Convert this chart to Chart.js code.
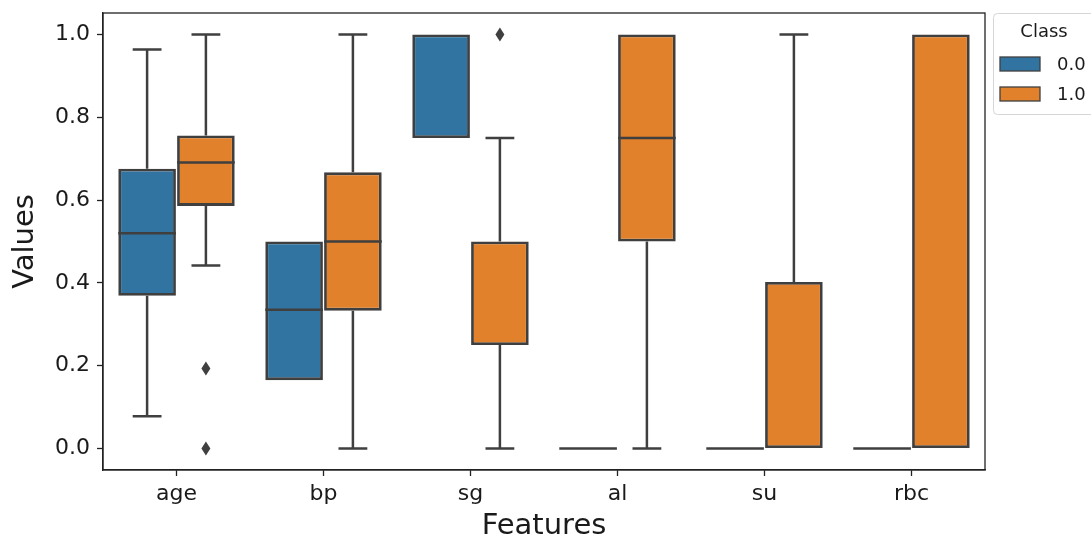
<!DOCTYPE html>
<html>
<head>
<meta charset="utf-8">
<script src="https://cdn.jsdelivr.net/npm/chart.js@4"></script>
<style>
  body { margin: 0; background: #fff; }
  #wrap { width: 1091px; height: 542px; }
</style>
</head>
<body>
<div id="wrap"><canvas id="boxChart"></canvas></div>
<script>
// Features on the x axis and the two classes (hue)
const features = ['age', 'bp', 'sg', 'al', 'su', 'rbc'];
const classLabels = ['0.0', '1.0'];
const yTicks = [0.0, 0.2, 0.4, 0.6, 0.8, 1.0];

// Class 0.0 box statistics
const min0 = [0.078, 0.165, 0.75, 0, 0, 0];
const q1_0 = [0.369, 0.165, 0.75, 0, 0, 0];
const med0 = [0.52, 0.335, 1.0, 0, 0, 0];
const q3_0 = [0.676, 0.5, 1.0, 0, 0, 0];
const max0 = [0.964, 0.5, 1.0, 0, 0, 0];
const out0 = [[], [], [], [], [], []];

// Class 1.0 box statistics
const min1 = [0.442, 0, 0, 0, 0, 0];
const q1_1 = [0.586, 0.333, 0.25, 0.5, 0, 0];
const med1 = [0.691, 0.5, 0.5, 0.75, 0, 1.0];
const q3_1 = [0.756, 0.667, 0.5, 1.0, 0.402, 1.0];
const max1 = [1.0, 1.0, 0.75, 1.0, 1.0, 1.0];
const out1 = [[0.193, 0.0], [], [1.0], [], [], []];

const blue = '#3274a1';
const orange = '#e1812c';
const edge = '#3f3f3f';
const textColor = '#1a1a1a';
const fontFamily = 'DejaVu Sans';

const stats = [
  { min: min0, q1: q1_0, med: med0, q3: q3_0, max: max0, out: out0 },
  { min: min1, q1: q1_1, med: med1, q3: q3_1, max: max1, out: out1 }
];

// whiskers, medians and outliers drawn on top of the floating bars
const boxExtras = {
  id: 'boxExtras',
  afterDatasetsDraw(chart) {
    const ctx = chart.ctx;
    const y = chart.scales.y;
    ctx.save();
    ctx.strokeStyle = edge;
    ctx.fillStyle = edge;
    ctx.lineWidth = 2.5;
    ctx.lineCap = 'butt';
    stats.forEach((s, d) => {
      const meta = chart.getDatasetMeta(d);
      meta.data.forEach((bar, i) => {
        const x = bar.x;
        const w = bar.width;
        const capHalf = w / 4;
        // upper whisker
        if (s.max[i] > s.q3[i]) {
          ctx.beginPath();
          ctx.moveTo(x, y.getPixelForValue(s.q3[i]));
          ctx.lineTo(x, y.getPixelForValue(s.max[i]));
          ctx.moveTo(x - capHalf, y.getPixelForValue(s.max[i]));
          ctx.lineTo(x + capHalf, y.getPixelForValue(s.max[i]));
          ctx.stroke();
        }
        // lower whisker
        if (s.min[i] < s.q1[i]) {
          ctx.beginPath();
          ctx.moveTo(x, y.getPixelForValue(s.q1[i]));
          ctx.lineTo(x, y.getPixelForValue(s.min[i]));
          ctx.moveTo(x - capHalf, y.getPixelForValue(s.min[i]));
          ctx.lineTo(x + capHalf, y.getPixelForValue(s.min[i]));
          ctx.stroke();
        }
        // median (skip when it sits on an edge of a box that has height)
        const flat = s.q1[i] === s.q3[i];
        if (flat || (s.med[i] !== s.q1[i] && s.med[i] !== s.q3[i])) {
          const my = y.getPixelForValue(s.med[i]);
          ctx.beginPath();
          ctx.moveTo(x - w / 2, my);
          ctx.lineTo(x + w / 2, my);
          ctx.stroke();
        }
        // outliers (thin diamonds)
        s.out[i].forEach(v => {
          const oy = y.getPixelForValue(v);
          ctx.beginPath();
          ctx.moveTo(x, oy - 7);
          ctx.lineTo(x + 4.5, oy);
          ctx.lineTo(x, oy + 7);
          ctx.lineTo(x - 4.5, oy);
          ctx.closePath();
          ctx.fill();
        });
      });
    });
    ctx.restore();
  },
  afterDraw(chart) {
    const ctx = chart.ctx;
    const a = chart.chartArea;
    ctx.save();
    // axes frame
    ctx.strokeStyle = '#222';
    ctx.lineWidth = 1.3;
    ctx.strokeRect(a.left, a.top, a.right - a.left, a.bottom - a.top);

    // legend outside the plot
    const lx = 993, ly = 13, lw = 110, lh = 101;
    ctx.fillStyle = '#fff';
    ctx.strokeStyle = '#d6d6d6';
    ctx.lineWidth = 1;
    ctx.beginPath();
    ctx.roundRect(lx + 0.5, ly + 0.5, lw, lh, 4);
    ctx.fill();
    ctx.stroke();
    ctx.fillStyle = textColor;
    ctx.font = '18px "' + fontFamily + '"';
    ctx.textAlign = 'center';
    ctx.textBaseline = 'middle';
    ctx.fillText('Class', 1044, 32);
    ctx.textAlign = 'left';
    chart.data.datasets.forEach((ds, d) => {
      const cy = 64 + d * 30;
      ctx.fillStyle = ds.backgroundColor;
      ctx.fillRect(1000, cy - 7, 40, 14);
      ctx.strokeStyle = edge;
      ctx.lineWidth = 1.3;
      ctx.strokeRect(1000, cy - 7, 40, 14);
      ctx.fillStyle = textColor;
      ctx.fillText(ds.label, 1057, cy + 1);
    });
    ctx.restore();
  }
};

const ctx = document.getElementById('boxChart').getContext('2d');
const boxChart = new Chart(ctx, {
  type: 'bar',
  data: {
    labels: features,
    datasets: [
      {
        label: classLabels[0],
        data: features.map((_, i) => [q1_0[i], q3_0[i]]),
        backgroundColor: blue,
        borderColor: edge,
        borderWidth: 2.8,
        borderSkipped: false
      },
      {
        label: classLabels[1],
        data: features.map((_, i) => [q1_1[i], q3_1[i]]),
        backgroundColor: orange,
        borderColor: edge,
        borderWidth: 2.8,
        borderSkipped: false
      }
    ]
  },
  options: {
    responsive: true,
    maintainAspectRatio: false,
    animation: false,
    categoryPercentage: 0.8,
    barPercentage: 0.98,
    layout: { padding: { top: 13, right: 106, left: 0, bottom: 0 } },
    plugins: {
      legend: { display: false },
      tooltip: { enabled: false }
    },
    scales: {
      x: {
        type: 'category',
        offset: true,
        grid: { offset: false, drawOnChartArea: false, drawTicks: true, tickLength: 6, color: '#222', tickWidth: 1.3 },
        border: { display: true, color: '#222', width: 1.3 },
        ticks: { color: textColor, font: { family: fontFamily, size: 22 }, padding: 5 },
        title: {
          display: true,
          text: 'Features',
          color: textColor,
          font: { family: fontFamily, size: 29, lineHeight: 1 },
          padding: { top: 0, bottom: 1 }
        },
        afterFit: (scale) => { scale.height = 72; scale.paddingLeft = 0; scale.paddingRight = 0; }
      },
      y: {
        min: -0.052,
        max: 1.052,
        afterBuildTicks: (scale) => { scale.ticks = yTicks.map(v => ({ value: v })); },
        grid: { drawOnChartArea: false, drawTicks: true, tickLength: 6, color: '#222', tickWidth: 1.3 },
        border: { display: true, color: '#222', width: 1.3 },
        ticks: {
          color: textColor,
          font: { family: fontFamily, size: 22 },
          padding: 7,
          callback: (v) => Number(v).toFixed(1)
        },
        title: {
          display: true,
          text: 'Values',
          color: textColor,
          font: { family: fontFamily, size: 29, lineHeight: 1 },
          padding: { top: 11, bottom: 0 }
        },
        afterFit: (scale) => { scale.width = 103; scale.paddingTop = 0; scale.paddingBottom = 0; }
      }
    }
  },
  plugins: [boxExtras]
});
</script>
</body>
</html>
